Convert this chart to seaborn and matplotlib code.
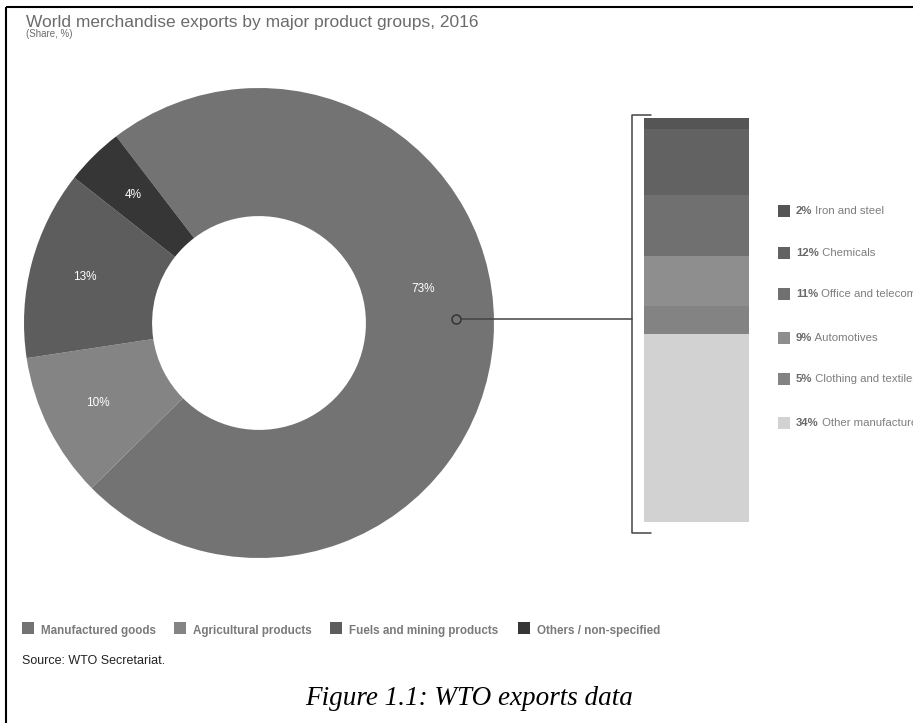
import numpy as np
import matplotlib
matplotlib.use("Agg")
import matplotlib.pyplot as plt
from matplotlib.patches import Rectangle
import seaborn as sns

# ============================================
# DATA
# ============================================

groups = ["Manufactured goods", "Agricultural products",
          "Fuels and mining products", "Others / non-specified"]
group_share = [73, 10, 13, 4]
group_colors = ["#737373", "#848484", "#5d5d5d", "#363636"]

# breakdown of manufactured goods, top to bottom of the bar
manuf_items = ["Iron and steel", "Chemicals", "Office and telecom equipment",
               "Automotives", "Clothing and textiles", "Other manufactures"]
manuf_share = [2, 12, 11, 9, 5, 34]
manuf_colors = ["#555555", "#626262", "#707070", "#8e8e8e", "#838383", "#d2d2d2"]

TITLE = "World merchandise exports by major product groups, 2016"
SUBTITLE = "(Share, %)"
SOURCE = "Source: WTO Secretariat."
CAPTION = "Figure 1.1: WTO exports data"

# ============================================
# FIGURE
# ============================================

sns.set_theme(style="white")
plt.rcParams["font.family"] = ["Liberation Sans", "DejaVu Sans"]

W, H = 913, 723
fig = plt.figure(figsize=(W / 100, H / 100), dpi=100)
fig.patch.set_facecolor("white")


def px_box(x0, y0, x1, y1):
    # pixel box (top-left origin) -> figure fraction rect
    return [x0 / W, 1 - y1 / H, (x1 - x0) / W, (y1 - y0) / H]


# -------- DONUT --------
ax_pie = fig.add_axes(px_box(24, 88, 494, 558))
wedges, texts, autotexts = ax_pie.pie(
    group_share,
    colors=group_colors,
    startangle=127.4,
    counterclock=False,
    wedgeprops=dict(width=0.545, linewidth=0),
    autopct="%d%%",
    pctdistance=0.765,
    textprops=dict(color="white", fontsize=8.5),
)
ax_pie.set_xlim(-1, 1)
ax_pie.set_ylim(-1, 1)
ax_pie.set_aspect("equal")
ax_pie.axis("off")
# the big slice label sits a bit above the slice middle
autotexts[0].set_position((0.70, 0.145))

# -------- STACKED BAR (manufactured goods) --------
ax_bar = fig.add_axes(px_box(644, 118, 749, 522))
cum = np.cumsum(manuf_share[::-1])[::-1]  # top of each segment
for top, col in zip(cum, manuf_colors):
    sns.barplot(x=["all"], y=[top], color=col, width=1.0,
                saturation=1, ax=ax_bar, linewidth=0)
ax_bar.set_xlim(-0.5, 0.5)
ax_bar.set_ylim(0, sum(manuf_share))
ax_bar.axis("off")

# -------- OVERLAY (pixel coordinates) --------
ov = fig.add_axes([0, 0, 1, 1])
ov.set_xlim(0, W)
ov.set_ylim(H, 0)
ov.axis("off")
ov.patch.set_alpha(0)

# frame lines
ov.plot([6, 6], [7, H], color="black", lw=1.5, solid_capstyle="butt")
ov.plot([6, W], [7, 7], color="black", lw=1.5, solid_capstyle="butt")

# title
ov.text(26, 27, TITLE, fontsize=12.5, color="#6b6b6b", va="baseline")
ov.text(26, 37, SUBTITLE, fontsize=7, color="#6b6b6b", va="baseline")

# bracket + connector
ov.plot([651, 632, 632, 651], [115, 115, 533, 533], color="#444444", lw=1.1)
ov.plot([456, 632], [319, 319], color="#444444", lw=1.1)
ov.plot([456], [319], marker="o", markersize=6.5, markerfacecolor="#737373",
        markeredgecolor="#333333", markeredgewidth=1.1)

# right legend (names run off the right edge, as in the original)
row_y = [211, 253, 294, 338, 379, 423]
for y, name, val, col in zip(row_y, manuf_items, manuf_share, manuf_colors):
    ov.add_patch(Rectangle((778, y - 6), 12, 12, color=col, lw=0))
    t = ov.text(796, y, f"{val}%", fontsize=8.2, fontweight="bold",
                color="#6a6a6a", va="center", ha="left")
    ov.annotate(" " + name, xy=(1, 0.5), xycoords=t, fontsize=8.2,
                color="#7d7d7d", va="center", ha="left",
                annotation_clip=False)

# bottom legend
sq_x = [22, 174, 330, 518]
for x, name, col in zip(sq_x, groups, group_colors):
    ov.add_patch(Rectangle((x, 622), 12, 12, color=col, lw=0))
    ov.text(x + 19, 634, name, fontsize=8.4, fontweight="bold",
            color="#7a7a7a", va="baseline", ha="left")

# source + caption
ov.text(22, 664, SOURCE, fontsize=9, color="#222222", va="baseline")
ov.text(305, 705, CAPTION, fontsize=19.5, style="italic", color="black",
        family=["Liberation Serif", "DejaVu Serif"], va="baseline")

fig.savefig("out.png", dpi=100, facecolor="white")
